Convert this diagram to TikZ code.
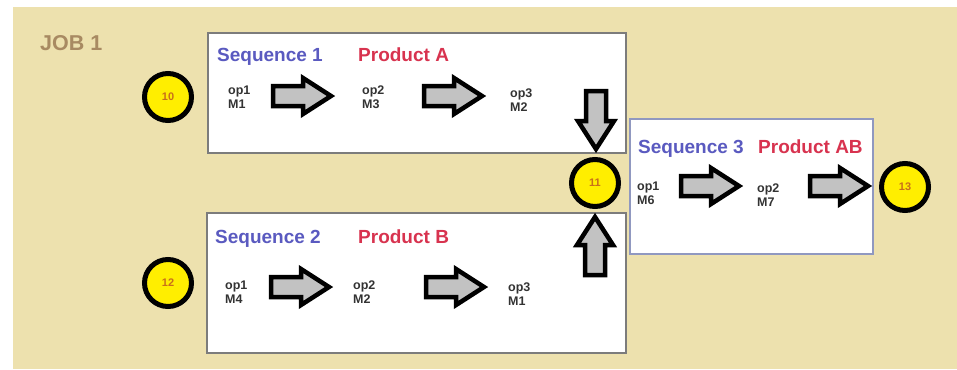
\documentclass[tikz,border=0pt]{standalone}
\usepackage{fontspec}
\setmainfont{Liberation Sans}
\definecolor{bgtan}{HTML}{EDE1AE}
\definecolor{evyellow}{HTML}{FFEE00}
\definecolor{numtxt}{HTML}{C8701A}
\definecolor{seqblue}{HTML}{5A5AC0}
\definecolor{prodred}{HTML}{D8334F}
\definecolor{jobbrown}{HTML}{A88A62}
\definecolor{optext}{HTML}{333333}
\definecolor{boxgray}{HTML}{7C7C7C}
\definecolor{boxblue}{HTML}{9098C0}
\definecolor{arrowgray}{HTML}{C2C2C2}
\begin{document}
\begin{tikzpicture}[x=1pt,y=-1pt,
  evt/.style={circle, draw=black, line width=5pt, fill=evyellow, minimum size=47pt, inner sep=0pt,
    font=\fontsize{11}{13}\selectfont\bfseries, text=numtxt},
  seqbox/.style={draw=boxgray, line width=1.6pt, fill=white, inner sep=0pt},
  seqtitle/.style={anchor=base west, inner sep=0pt, font=\fontsize{19}{22}\selectfont\bfseries, text=seqblue},
  prodtitle/.style={anchor=base west, inner sep=0pt, font=\fontsize{19}{22}\selectfont\bfseries, text=prodred},
  oplabel/.style={anchor=base west, inner sep=0pt, font=\fontsize{12.5}{14}\selectfont\bfseries, text=optext},
  barrow/.pic={\draw[line width=4.5pt, fill=arrowgray, line join=miter]
    (-29,-10) -- (1,-10) -- (1,-18) -- (29,0) -- (1,18) -- (1,10) -- (-29,10) -- cycle;}
]
\useasboundingbox (0,0) rectangle (957,369);
\fill[white] (0,0) rectangle (957,369);
\fill[bgtan] (13,7) rectangle (957,369);

\node[anchor=base west, inner sep=0pt, font=\fontsize{21.5}{24}\selectfont\bfseries, text=jobbrown] (job) at (40,50) {JOB 1};

% boxes
\node[seqbox, minimum width=418pt, minimum height=120pt] (box1) at (417,93) {};
\node[seqbox, minimum width=419pt, minimum height=140pt] (box2) at (416.5,283) {};
\node[seqbox, draw=boxblue, minimum width=243pt, minimum height=135pt] (box3) at (751.5,186.5) {};

% titles
\node[seqtitle] (t1) at (217,62) {Sequence 1};
\node[prodtitle] (p1) at (358,62) {Product A};
\node[seqtitle] (t2) at (215,243) {Sequence 2};
\node[prodtitle] (p2) at (358,243) {Product B};
\node[seqtitle] (t3) at (638,153) {Sequence 3};
\node[prodtitle] (p3) at (758,153) {Product AB};

% operations
\node[oplabel] (s1a) at (228,94) {\begin{tabular}[t]{@{}l@{}}op1\\M1\end{tabular}};
\node[oplabel] (s1b) at (362,94) {\begin{tabular}[t]{@{}l@{}}op2\\M3\end{tabular}};
\node[oplabel] (s1c) at (510,97) {\begin{tabular}[t]{@{}l@{}}op3\\M2\end{tabular}};
\node[oplabel] (s2a) at (225,289) {\begin{tabular}[t]{@{}l@{}}op1\\M4\end{tabular}};
\node[oplabel] (s2b) at (353,289) {\begin{tabular}[t]{@{}l@{}}op2\\M2\end{tabular}};
\node[oplabel] (s2c) at (508,291) {\begin{tabular}[t]{@{}l@{}}op3\\M1\end{tabular}};
\node[oplabel] (s3a) at (637,190) {\begin{tabular}[t]{@{}l@{}}op1\\M6\end{tabular}};
\node[oplabel] (s3b) at (757,192) {\begin{tabular}[t]{@{}l@{}}op2\\M7\end{tabular}};

% events
\node[evt] (e10) at (168,97) {10};
\node[evt] (e12) at (168,283) {12};
\node[evt] (e11) at (595,183) {11};
\node[evt] (e13) at (905,187) {13};

% block arrows
\pic at (302,96) {barrow};
\pic at (453,96) {barrow};
\pic at (300,287) {barrow};
\pic at (455,287) {barrow};
\pic at (710,186) {barrow};
\pic at (839,186) {barrow};
\pic[rotate=-90] at (596,120) {barrow};
\pic[rotate=90] at (595,246) {barrow};
\end{tikzpicture}
\end{document}
